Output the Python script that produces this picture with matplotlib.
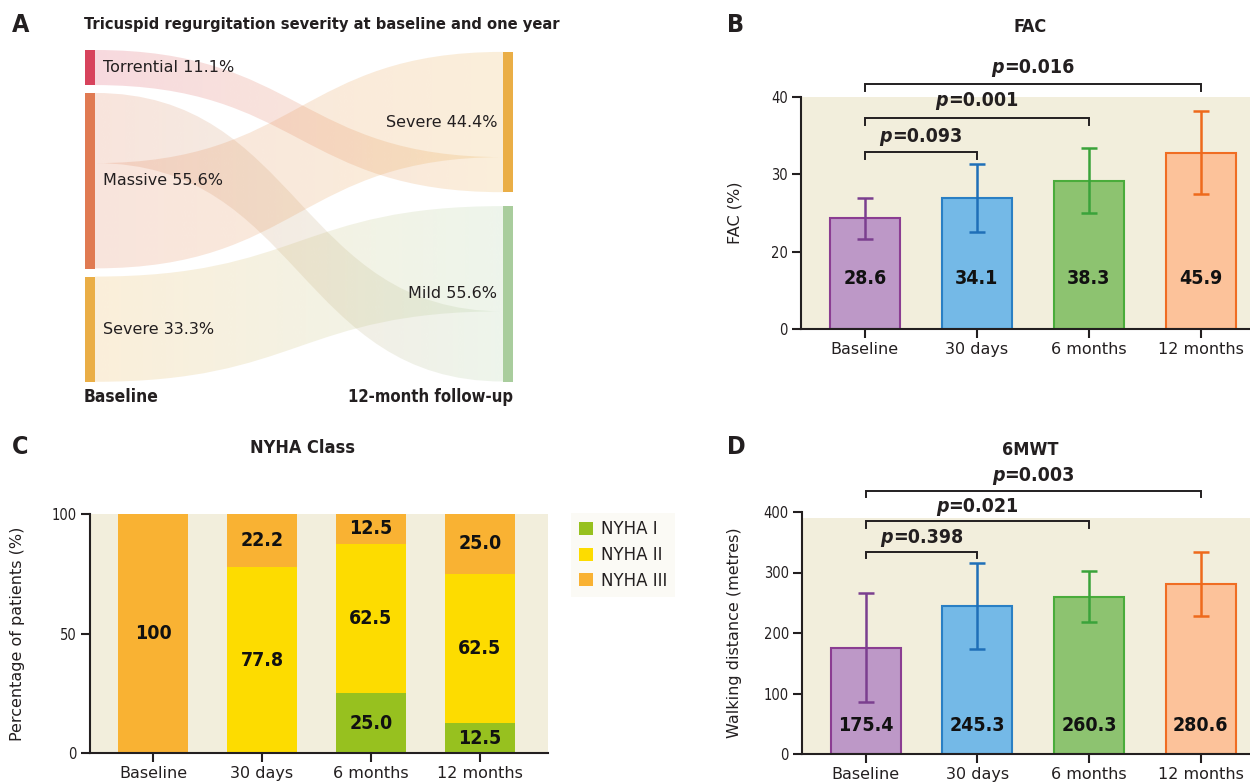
import numpy as np
import matplotlib
matplotlib.use('Agg')
import matplotlib.pyplot as plt
import matplotlib.transforms as mtransforms
from matplotlib.path import Path
from matplotlib.patches import PathPatch, Patch
from matplotlib.colors import to_rgb

W, H = 1250, 782
TXT = '#231f20'
BG = '#f2eedc'
plt.rcParams['font.family'] = ['DejaVu Sans']
BOLDC = dict(family='DejaVu Sans', fontstretch='condensed', fontweight='bold')

# ---- data ----
# A: TR severity
tr_left = ['Torrential', 'Massive', 'Severe']
tr_left_pct = [11.1, 55.6, 33.3]
tr_left_col = ['#d7435c', '#e07a52', '#eaae46']
tr_right = ['Severe', 'Mild']
tr_right_pct = [44.4, 55.6]
tr_right_col = ['#eaae46', '#a9cd9d']
flow_src = ['Torrential', 'Massive', 'Massive', 'Severe']
flow_dst = ['Severe', 'Mild', 'Severe', 'Mild']
flow_pct = [11.1, 22.2, 33.3, 33.3]
dst_order = {'Severe': ['Massive', 'Torrential'], 'Mild': ['Severe', 'Massive']}

# B: FAC
timepoints = ['Baseline', '30 days', '6 months', '12 months']
fac_mean = [24.3, 27.0, 29.2, 32.8]
fac_err = [2.6, 4.4, 4.15, 5.35]
fac_labels = ['28.6', '34.1', '38.3', '45.9']
fac_p = ['0.093', '0.001', '0.016']

# C: NYHA
nyha_1 = [0, 0, 25.0, 12.5]
nyha_2 = [0, 77.8, 62.5, 62.5]
nyha_3 = [100, 22.2, 12.5, 25.0]
nyha_names = ['NYHA I', 'NYHA II', 'NYHA III']
nyha_col = ['#97c11f', '#fddc00', '#f9b233']

# D: 6MWT
walk_mean = [175.4, 245.3, 260.3, 280.6]
walk_err = [90, 71, 42, 53]
walk_p = ['0.398', '0.021', '0.003']

bar_fill = ['#bd98c7', '#74b9e7', '#8dc370', '#fcc29a']
bar_edge = ['#8b3d92', '#2a7fc4', '#4aac3b', '#f06d23']
err_col = ['#7b3f8f', '#1f6fb8', '#3aa33a', '#ee6a1c']

fig = plt.figure(figsize=(W / 100, H / 100), dpi=100)
renderer = fig.canvas.get_renderer()


def px_axes(x0, y0, x1, y1):
    return fig.add_axes([x0 / W, 1 - y1 / H, (x1 - x0) / W, (y1 - y0) / H])


def px_text(x, y, s, **kw):
    kw.setdefault('color', TXT)
    return fig.text(x / W, 1 - y / H, s, **kw)


# ---- panel A ----
axA = px_axes(85, 50, 513, 382)
axA.axis('off')
nw = 10 / 428
gap_l, gap_r, off_r = 2.5, 4.4, 0.6
left_pos = {}
y = 0
for name, v in zip(tr_left, tr_left_pct):
    left_pos[name] = (y, y + v)
    y += v + gap_l
right_pos = {}
y = off_r
for name, v in zip(tr_right, tr_right_pct):
    right_pos[name] = (y, y + v)
    y += v + gap_r

src_cur = {k: v[0] for k, v in left_pos.items()}
dst_slot = {}
for d, order in dst_order.items():
    cur = right_pos[d][0]
    for s in order:
        v = [p for ss, dd, p in zip(flow_src, flow_dst, flow_pct) if ss == s and dd == d][0]
        dst_slot[(s, d)] = (cur, cur + v)
        cur += v

x0, x1 = nw, 1 - nw
xm = (x0 + x1) / 2
t = np.linspace(0, 1, 256)
for s, d, v in zip(flow_src, flow_dst, flow_pct):
    ya0, yb0 = src_cur[s], src_cur[s] + v
    src_cur[s] += v
    ya1, yb1 = dst_slot[(s, d)]
    verts = [(x0, ya0), (xm, ya0), (xm, ya1), (x1, ya1),
             (x1, yb1), (xm, yb1), (xm, yb0), (x0, yb0), (x0, ya0)]
    codes = [Path.MOVETO, Path.CURVE4, Path.CURVE4, Path.CURVE4,
             Path.LINETO, Path.CURVE4, Path.CURVE4, Path.CURVE4, Path.CLOSEPOLY]
    patch = PathPatch(Path(verts, codes), facecolor='none', edgecolor='none')
    axA.add_patch(patch)
    c0 = np.array(to_rgb(tr_left_col[tr_left.index(s)]))
    c1 = np.array(to_rgb(tr_right_col[tr_right.index(d)]))
    img = np.zeros((1, 256, 4))
    img[0, :, :3] = (1 - t)[:, None] * c0 + t[:, None] * c1
    img[0, :, 3] = 0.2
    im = axA.imshow(img, extent=[x0, x1, 106, -1], aspect='auto', interpolation='bilinear')
    im.set_clip_path(patch)

for name, v, c in zip(tr_left, tr_left_pct, tr_left_col):
    a, b = left_pos[name]
    axA.bar(nw / 2, v, bottom=a, width=nw, color=c, linewidth=0)
    axA.text(18 / 428, (a + b) / 2, f'{name} {v}%', ha='left', va='center', fontsize=11.5, color=TXT)
for name, v, c in zip(tr_right, tr_right_pct, tr_right_col):
    a, b = right_pos[name]
    axA.bar(1 - nw / 2, v, bottom=a, width=nw, color=c, linewidth=0)
    axA.text(1 - 16 / 428, (a + b) / 2, f'{name} {v}%', ha='right', va='center', fontsize=11.5, color=TXT)
axA.set_xlim(0, 1)
axA.set_ylim(332 / 3.16, 0)

px_text(12, 25, 'A', fontsize=18, va='center', **BOLDC)
px_text(84, 25, 'Tricuspid regurgitation severity at baseline and one year', fontsize=11.8,
        va='center', **BOLDC)
px_text(84, 397, 'Baseline', fontsize=12.5, va='center', **BOLDC)
px_text(513, 397, '12-month follow-up', fontsize=12, va='center', ha='right', **BOLDC)


# ---- bar panels helpers ----
def style_axes(ax, xlim):
    for sp in ['top', 'right']:
        ax.spines[sp].set_visible(False)
    for sp in ['left', 'bottom']:
        ax.spines[sp].set_linewidth(1.5)
        ax.spines[sp].set_color(TXT)
    ax.tick_params(axis='both', length=6.5, width=1.5, color=TXT, pad=3)
    ax.tick_params(axis='x', labelsize=11.5, labelcolor=TXT)
    ax.tick_params(axis='y', labelsize=10.5, labelcolor=TXT)
    for lab in ax.get_yticklabels():
        lab.set_family('DejaVu Sans')
        lab.set_stretch('condensed')
    ax.set_xlim(*xlim)


def mean_bars(ax, means, errs, labels, label_y):
    x = np.arange(len(means))
    ax.bar(x, means, width=0.625, color=bar_fill, edgecolor=bar_edge, linewidth=1.5, zorder=2)
    for i in range(len(means)):
        ax.errorbar(x[i], means[i], yerr=errs[i], fmt='none', ecolor=err_col[i],
                    elinewidth=1.8, capsize=6, capthick=1.8, zorder=3)
    tr = mtransforms.blended_transform_factory(ax.transData, ax.transAxes)
    for i, s in enumerate(labels):
        ax.text(x[i], label_y, s, transform=tr, ha='center', va='center', fontsize=14,
                color='#111111', zorder=4, **BOLDC)
    ax.set_xticks(x)
    ax.set_xticklabels(timepoints)


def p_label(ax, xc, yc, value):
    # italic "p" + upright "=value", centred together on xc
    tr = mtransforms.blended_transform_factory(ax.transData, ax.transAxes)
    kw = dict(fontsize=14, color=TXT, va='center', **BOLDC)
    tp = ax.text(xc, yc, 'p', transform=tr, ha='right', style='oblique', **kw)
    tv = ax.text(xc, yc, '=' + value, transform=tr, ha='left', **kw)
    wp = tp.get_window_extent(renderer).width
    wv = tv.get_window_extent(renderer).width
    shift = mtransforms.ScaledTranslation((wp - wv) / 2 / fig.dpi, 0, fig.dpi_scale_trans)
    tp.set_transform(tr + shift)
    tv.set_transform(tr + shift)


def brackets(ax, pvals, line_y, leg_y, text_y):
    tr = mtransforms.blended_transform_factory(ax.transData, ax.transAxes)
    for j, p in enumerate(pvals):
        xa, xb = 0, j + 1
        ax.plot([xa, xa, xb, xb], [leg_y[j], line_y[j], line_y[j], leg_y[j]], transform=tr,
                color=TXT, lw=1.4, clip_on=False, solid_joinstyle='miter')
        p_label(ax, (xa + xb) / 2, text_y[j], p)


# ---- panel B ----
def fac_fwd(y):
    y = np.asarray(y, float)
    return np.where(y <= 20, y / 2, y - 10)


def fac_inv(u):
    u = np.asarray(u, float)
    return np.where(u <= 10, u * 2, u + 10)


axB = px_axes(801, 97, 1250, 329)
axB.set_facecolor(BG)
axB.set_yscale('function', functions=(fac_fwd, fac_inv))
mean_bars(axB, fac_mean, fac_err, fac_labels, 0.217)
axB.set_ylim(0, 40)
axB.set_yticks([0, 20, 30, 40])
axB.set_yticklabels(['0', '20', '30', '40'])
style_axes(axB, (-0.57, 3.44))
brackets(axB, fac_p, [0.763, 0.909, 1.054], [0.733, 0.879, 1.028], [0.828, 0.983, 1.129])
axB.set_ylabel('FAC (%)', fontsize=11.5, color=TXT)
axB.yaxis.set_label_coords((742 - 801) / 449, 0.5)
px_text(727, 25, 'B', fontsize=18, va='center', **BOLDC)
px_text(1030, 27, 'FAC', fontsize=13, va='center', ha='center', **BOLDC)

# ---- panel C ----
axC = px_axes(90, 514, 548, 753)
axC.set_facecolor(BG)
xc = np.arange(len(timepoints))
bottom = np.zeros(len(timepoints))
for vals, c in zip([nyha_1, nyha_2, nyha_3], nyha_col):
    vals = np.array(vals, float)
    axC.bar(xc, vals, bottom=bottom, width=0.64, color=c, linewidth=0, zorder=2)
    for i, v in enumerate(vals):
        if v > 0:
            s = '100' if v == 100 else f'{v:.1f}'
            axC.text(xc[i], bottom[i] + v / 2, s, ha='center', va='center', fontsize=14,
                     color='#111111', zorder=4, **BOLDC)
    bottom += vals
axC.set_ylim(0, 100)
axC.set_yticks([0, 50, 100])
axC.set_xticks(xc)
axC.set_xticklabels(timepoints)
style_axes(axC, (-0.578, 3.624))
axC.set_ylabel('Percentage of patients (%)', fontsize=11.5, color=TXT)
axC.yaxis.set_label_coords((25 - 90) / 458, 0.5)
handles = [Patch(facecolor=c, edgecolor='none') for c in nyha_col]
axC.legend(handles, nyha_names, loc='upper left', bbox_to_anchor=(571 / W, 1 - 513 / H),
           bbox_transform=fig.transFigure, frameon=True, facecolor='#fbfaf5', edgecolor='none',
           framealpha=1, fancybox=False, fontsize=12, handlelength=0.85, handleheight=0.85,
           labelspacing=0.45, handletextpad=0.5, borderpad=0.45, borderaxespad=0,
           labelcolor=TXT)
px_text(12, 447, 'C', fontsize=18, va='center', **BOLDC)
px_text(303, 448, 'NYHA Class', fontsize=13, va='center', ha='center', **BOLDC)

# ---- panel D ----
axD = px_axes(802, 512, 1250, 754)
axD.axhspan(0, 390, color=BG, zorder=0, linewidth=0)
mean_bars(axD, walk_mean, walk_err, [f'{v:.1f}' for v in walk_mean], 0.117)
axD.set_ylim(0, 400)
axD.set_yticks([0, 100, 200, 300, 400])
style_axes(axD, (-0.57, 3.44))
brackets(axD, walk_p, [0.836, 0.961, 1.087], [0.808, 0.934, 1.062], [0.893, 1.021, 1.15])
axD.set_ylabel('Walking distance (metres)', fontsize=11.5, color=TXT)
axD.yaxis.set_label_coords((742 - 802) / 448, 0.5)
px_text(727, 447, 'D', fontsize=18, va='center', **BOLDC)
px_text(1030, 450, '6MWT', fontsize=13, va='center', ha='center', **BOLDC)

fig.savefig('out.png', dpi=100)
